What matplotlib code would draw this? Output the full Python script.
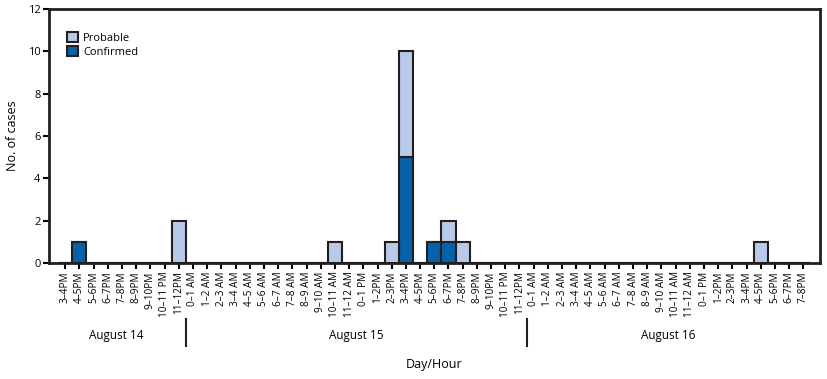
import matplotlib
matplotlib.use("Agg")
import matplotlib.pyplot as plt
import matplotlib.transforms as mtransforms
from matplotlib.patches import Patch
import numpy as np

plt.rcParams['font.family'] = ['Open Sans', 'DejaVu Sans']

# hour labels, per day
aug14 = ["3\u20134PM", "4\u20135PM", "5\u20136PM", "6\u20137PM", "7\u20138PM", "8\u20139PM",
         "9\u201310PM", "10\u201311 PM", "11\u201312PM"]
aug15_am = ["0\u20131 AM", "1\u20132 AM", "2\u20133 AM", "3\u20134 AM", "4\u20135 AM", "5\u20136 AM",
            "6\u20137 AM", "7\u20138 AM", "8\u20139 AM", "9\u201310 AM", "10\u201311 AM", "11\u201312 AM"]
aug15_pm = ["0\u20131 PM", "1\u20132PM", "2\u20133PM", "3\u20134PM", "4\u20135PM", "5\u20136PM",
            "6\u20137PM", "7\u20138PM", "8\u20139PM", "9\u201310PM", "10\u201311 PM", "11\u201312PM"]
aug16_am = list(aug15_am)
aug16_pm = ["0\u20131 PM", "1\u20132PM", "2\u20133PM", "3\u20134PM", "4\u20135PM", "5\u20136PM",
            "6\u20137PM", "7\u20138PM"]
hours = aug14 + aug15_am + aug15_pm + aug16_am + aug16_pm

days = ["August 14", "August 15", "August 16"]
day_sizes = [len(aug14), len(aug15_am) + len(aug15_pm), len(aug16_am) + len(aug16_pm)]

# cases per hour (index into hours)
confirmed = [0] * len(hours)
probable = [0] * len(hours)
confirmed[1] = 1
confirmed[24] = 5
confirmed[26] = 1
confirmed[27] = 1
probable[8] = 2
probable[19] = 1
probable[23] = 1
probable[24] = 5
probable[27] = 1
probable[28] = 1
probable[49] = 1

c_conf = "#0561a9"
c_prob = "#b9c9e9"
edge = "#231f20"

fig = plt.figure(figsize=(8.28, 3.79), dpi=100)
ax = fig.add_axes([0.059, 0.306, 0.931, 0.670])

x = np.arange(len(hours))
ax.bar(x, confirmed, width=1.0, color=c_conf, edgecolor=edge, linewidth=1.5, zorder=3)
ax.bar(x, probable, width=1.0, bottom=confirmed, color=c_prob, edgecolor=edge, linewidth=1.5, zorder=3)

ax.set_xlim(-1.15, len(hours) - 1 + 1.15)
ax.set_ylim(0, 12)
ax.set_yticks(range(0, 13, 2))
ax.set_xticks(x)
ax.set_xticklabels(hours, rotation=90, fontsize=7.2)
ax.tick_params(axis='y', labelsize=8, length=4, width=1.5, direction='out', pad=2)
ax.tick_params(axis='x', length=4, width=1.5, direction='out', pad=2)
for s in ax.spines.values():
    s.set_linewidth(2)
    s.set_color(edge)

ax.set_ylabel("No. of cases", fontsize=9, labelpad=6)

trans = mtransforms.blended_transform_factory(ax.transData, ax.transAxes)
start = 0
for i, (d, n) in enumerate(zip(days, day_sizes)):
    mid = start + (n - 1) / 2
    if i == 0:
        mid -= 0.4
    ax.text(mid, -0.285, d, transform=trans, ha='center', va='center', fontsize=8.5)
    if i < len(days) - 1:
        ax.plot([start + n - 0.5] * 2, [-0.22, -0.327], transform=trans, color=edge,
                lw=1.5, clip_on=False)
    start += n

ax.text((len(hours) - 1) / 2, -0.40, "Day/Hour", transform=trans, ha='center', va='center',
        fontsize=9)

handles = [Patch(facecolor=c_prob, edgecolor=edge, linewidth=1.5, label="Probable"),
           Patch(facecolor=c_conf, edgecolor=edge, linewidth=1.5, label="Confirmed")]
ax.legend(handles=handles, loc='upper left', bbox_to_anchor=(0.01, 0.95), frameon=False,
          fontsize=8, handlelength=1.0, handleheight=1.0, handletextpad=0.5, labelspacing=0.2)

fig.savefig("out.png", dpi=100)
